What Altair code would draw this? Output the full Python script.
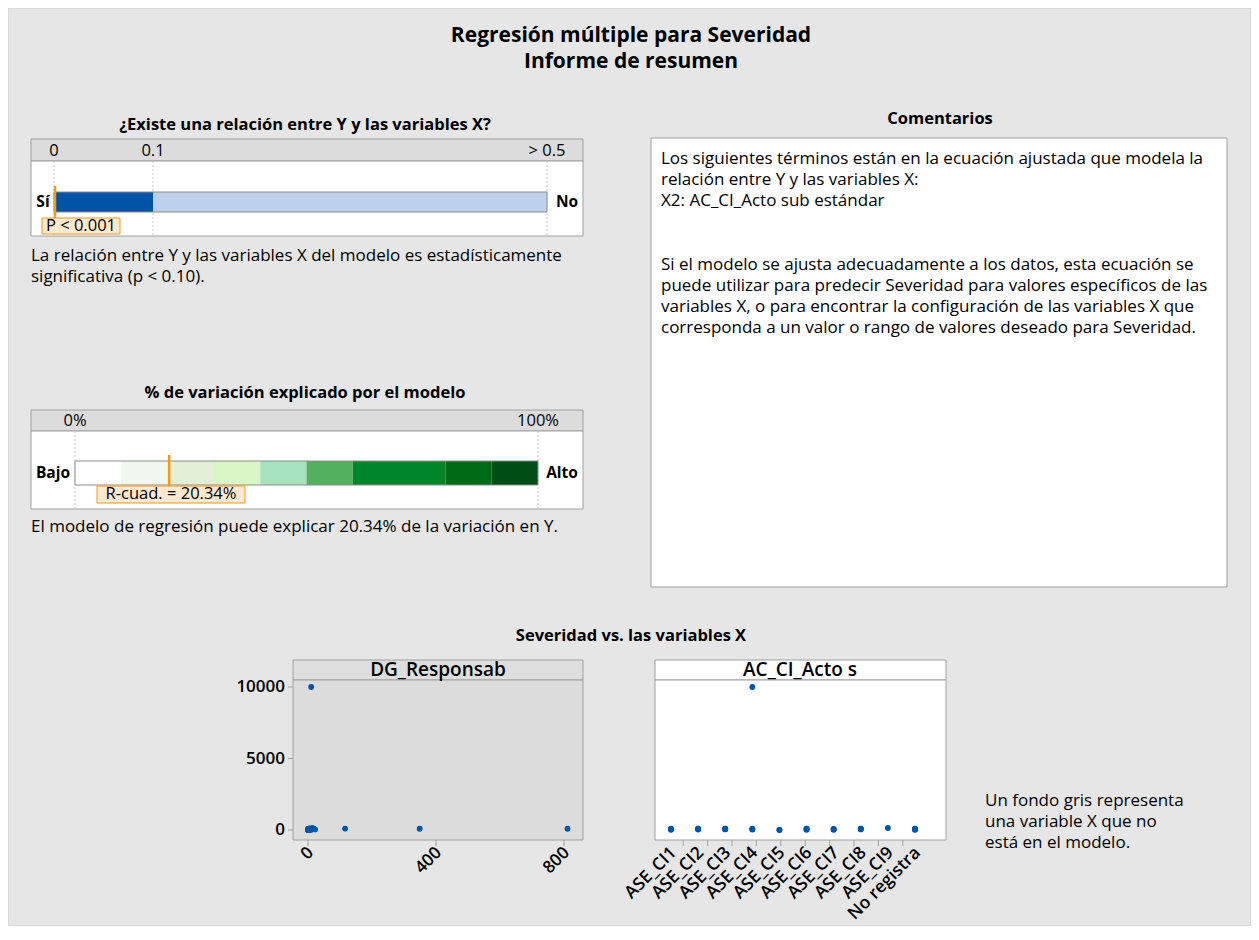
import altair as alt
import pandas as pd

# ---------------- data ----------------
p_ticks = [0, 0.1, 0.5]
p_tick_labels = ["0", "0.1", "> 0.5"]
p_seg_start = [0, 0.1]
p_seg_end = [0.1, 0.5]
p_seg_colors = ["#0054a6", "#bdd1ea"]
p_value = 0.001
p_text = "P < 0.001"

r2_ticks = [0, 100]
r2_tick_labels = ["0%", "100%"]
r2_seg_start = [0, 10, 20, 30, 40, 50, 60, 80, 90]
r2_seg_end = [10, 20, 30, 40, 50, 60, 80, 90, 100]
r2_seg_colors = ["#ffffff", "#f0f7ee", "#e3efd7", "#daf5c4", "#a6e2bd",
                 "#52b05f", "#00862a", "#006b17", "#004d15"]
r2_value = 20.34
r2_text = "R-cuad. = 20.34%"

categories = ["ASE_CI1", "ASE_CI2", "ASE_CI3", "ASE_CI4", "ASE_CI5",
              "ASE_CI6", "ASE_CI7", "ASE_CI8", "ASE_CI9", "No registra"]
obs_cat = ["ASE_CI1", "ASE_CI1", "ASE_CI1", "ASE_CI1",
           "ASE_CI2", "ASE_CI2", "ASE_CI2", "ASE_CI2",
           "ASE_CI3", "ASE_CI3", "ASE_CI3", "ASE_CI3",
           "ASE_CI4", "ASE_CI4", "ASE_CI4", "ASE_CI4",
           "ASE_CI5", "ASE_CI5",
           "ASE_CI6", "ASE_CI6", "ASE_CI6", "ASE_CI6",
           "ASE_CI7", "ASE_CI7", "ASE_CI7",
           "ASE_CI8", "ASE_CI8", "ASE_CI8",
           "ASE_CI9",
           "No registra", "No registra", "No registra", "No registra", "No registra"]
obs_dg = [0, 2, 5, 1,
          3, 8, 0, 4,
          6, 12, 2, 116,
          10, 4, 7, 20,
          0, 1,
          9, 15, 3, 349,
          5, 18, 2,
          11, 6, 811,
          14,
          0, 2, 1, 22, 7]
obs_sev = [20, 80, 100, 50,
           30, 90, 60, 100,
           40, 90, 70, 100,
           10000, 30, 100, 60,
           5, 10,
           20, 100, 60, 90,
           20, 80, 50,
           40, 100, 90,
           140,
           10, 100, 60, 40, 80]
dg_ticks = [0, 400, 800]
sev_ticks = [0, 5000, 10000]

# ---------------- layout ----------------
W, H = 1243, 918
OX, OY = 8, 8
FONT = "Open Sans"
BORDER = "#a0a0a0"
ORANGE = "#f39a1e"
BODY = 17
SEC = 16.5
TICK = 16.5


def PX(field):
    return alt.X(f"{field}:Q", scale=alt.Scale(domain=[OX, OX + W], range=[0, W], nice=False, zero=False), axis=None)


def PY(field):
    return alt.Y(f"{field}:Q", scale=alt.Scale(domain=[OY, OY + H], range=[0, H], nice=False, zero=False), axis=None)


def PX2(field):
    return alt.X2(f"{field}:Q")


def PY2(field):
    return alt.Y2(f"{field}:Q")


def rects(rows, width=1.0):
    df = pd.DataFrame(rows, columns=["x", "x2", "y", "y2", "fill", "stroke"])
    return alt.Chart(df).mark_rect(strokeWidth=width).encode(
        x=PX("x"), x2=PX2("x2"), y=PY("y"), y2=PY2("y2"),
        fill=alt.Fill("fill:N", scale=None), stroke=alt.Stroke("stroke:N", scale=None))


def texts(rows, size, weight="normal", align="left", color="#000000"):
    df = pd.DataFrame(rows, columns=["x", "y", "t"])
    return alt.Chart(df).mark_text(fontSize=size, fontWeight=weight, align=align, baseline="middle",
                                   font=FONT, color=color).encode(
        x=PX("x"), y=PY("y"), text="t:N")


layers = []

# frame
layers.append(rects([[OX, OX + W, OY, OY + H, "#e6e6e6", "#cccccc"]]))

# titles
layers.append(texts([[631, 36, "Regresión múltiple para Severidad"],
                     [631, 62, "Informe de resumen"]], 21, "bold", "center"))
layers.append(texts([[305, 125, "¿Existe una relación entre Y y las variables X?"],
                     [305, 393, "% de variación explicado por el modelo"],
                     [940, 119, "Comentarios"],
                     [631, 636, "Severidad vs. las variables X"]], SEC, "bold", "center"))

# section boxes
layers.append(rects([[31, 583, 139, 161, "#dcdcdc", BORDER],
                     [31, 583, 161, 236, "#ffffff", BORDER],
                     [31, 583, 410, 431, "#dcdcdc", BORDER],
                     [31, 583, 431, 509, "#ffffff", BORDER],
                     [651, 1227, 138, 587, "#ffffff", BORDER]]))

# ---- p-value bar ----
pscale = alt.Scale(domain=p_ticks, range=[54 - OX, 153 - OX, 547 - OX], nice=False, zero=False)
ptick_df = pd.DataFrame({"v": p_ticks, "lab": p_tick_labels})
layers.append(alt.Chart(ptick_df).mark_rule(color="#c4c4c4", strokeDash=[2, 2]).encode(
    x=alt.X("v:Q", scale=pscale, axis=None), y=alt.value(161 - OY), y2=alt.value(236 - OY)))
layers.append(alt.Chart(ptick_df).mark_text(fontSize=TICK, font=FONT, baseline="middle", align="center").encode(
    x=alt.X("v:Q", scale=pscale, axis=None), y=alt.value(151 - OY), text="lab:N"))
pseg_df = pd.DataFrame({"s": p_seg_start, "e": p_seg_end, "c": p_seg_colors})
layers.append(alt.Chart(pseg_df).mark_rect().encode(
    x=alt.X("s:Q", scale=pscale, axis=None), x2="e:Q",
    y=alt.value(192 - OY), y2=alt.value(212 - OY), fill=alt.Fill("c:N", scale=None)))
layers.append(alt.Chart(pd.DataFrame({"s": [p_ticks[0]], "e": [p_ticks[-1]]})).mark_rect(
    fillOpacity=0, stroke="#8c8c8c", strokeWidth=1).encode(
    x=alt.X("s:Q", scale=pscale, axis=None), x2="e:Q",
    y=alt.value(192 - OY), y2=alt.value(212 - OY)))
layers.append(texts([[43, 202, "Sí"]], 15.5, "bold", "center"))
layers.append(texts([[567, 202, "No"]], 15.5, "bold", "center"))
layers.append(rects([[42, 120, 218, 234, "#fde8d0", ORANGE]]))
layers.append(texts([[81, 226, p_text]], TICK, "normal", "center"))
layers.append(alt.Chart(pd.DataFrame({"v": [p_value]})).mark_rule(color=ORANGE, strokeWidth=2.5).encode(
    x=alt.X("v:Q", scale=pscale, axis=None), y=alt.value(186 - OY), y2=alt.value(218 - OY)))
layers.append(texts([[31, 256, "La relación entre Y y las variables X del modelo es estadísticamente"],
                     [31, 277, "significativa (p < 0.10)."]], BODY))

# ---- R-squared bar ----
rscale = alt.Scale(domain=[0, 100], range=[75 - OX, 538 - OX], nice=False, zero=False)
rtick_df = pd.DataFrame({"v": r2_ticks, "lab": r2_tick_labels})
layers.append(alt.Chart(rtick_df).mark_rule(color="#c4c4c4", strokeDash=[2, 2]).encode(
    x=alt.X("v:Q", scale=rscale, axis=None), y=alt.value(431 - OY), y2=alt.value(509 - OY)))
layers.append(alt.Chart(rtick_df).mark_text(fontSize=TICK, font=FONT, baseline="middle", align="center").encode(
    x=alt.X("v:Q", scale=rscale, axis=None), y=alt.value(421 - OY), text="lab:N"))
rseg_df = pd.DataFrame({"s": r2_seg_start, "e": r2_seg_end, "c": r2_seg_colors})
layers.append(alt.Chart(rseg_df).mark_rect().encode(
    x=alt.X("s:Q", scale=rscale, axis=None), x2="e:Q",
    y=alt.value(461 - OY), y2=alt.value(485 - OY), fill=alt.Fill("c:N", scale=None)))
layers.append(alt.Chart(pd.DataFrame({"s": [0], "e": [100]})).mark_rect(
    fillOpacity=0, stroke="#8c8c8c", strokeWidth=1).encode(
    x=alt.X("s:Q", scale=rscale, axis=None), x2="e:Q",
    y=alt.value(461 - OY), y2=alt.value(485 - OY)))
layers.append(texts([[53, 473, "Bajo"]], 15.5, "bold", "center"))
layers.append(texts([[562, 473, "Alto"]], 15.5, "bold", "center"))
layers.append(rects([[97, 245, 486, 503, "#fde8d0", ORANGE]]))
layers.append(texts([[171, 494, r2_text]], TICK, "normal", "center"))
layers.append(alt.Chart(pd.DataFrame({"v": [r2_value]})).mark_rule(color=ORANGE, strokeWidth=2.5).encode(
    x=alt.X("v:Q", scale=rscale, axis=None), y=alt.value(455 - OY), y2=alt.value(486 - OY)))
layers.append(texts([[31, 527, "El modelo de regresión puede explicar 20.34% de la variación en Y."]], BODY))

# ---- comments ----
layers.append(texts([
    [661, 159, "Los siguientes términos están en la ecuación ajustada que modela la"],
    [661, 180, "relación entre Y y las variables X:"],
    [661, 201, "X2: AC_CI_Acto sub estándar"],
    [661, 265, "Si el modelo se ajusta adecuadamente a los datos, esta ecuación se"],
    [661, 286, "puede utilizar para predecir Severidad para valores específicos de las"],
    [661, 307, "variables X, o para encontrar la configuración de las variables X que"],
    [661, 328, "corresponda a un valor o rango de valores deseado para Severidad."],
], BODY))

# ---- scatter panels ----
layers.append(rects([[293, 583, 660, 680, "#dedede", BORDER],
                     [293, 583, 680, 840, "#dcdcdc", BORDER],
                     [655, 946, 660, 680, "#ffffff", BORDER],
                     [655, 946, 680, 840, "#ffffff", BORDER]]))
layers.append(texts([[438, 670, "DG_Responsab"], [800, 670, "AC_CI_Acto s"]], 19, 600, "center"))
layers.append(texts([[985, 801, "Un fondo gris representa"],
                     [985, 822, "una variable X que no"],
                     [985, 843, "está en el modelo."]], BODY))

yscale = alt.Scale(domain=[0, 10000], range=[830 - OY, 687 - OY], nice=False, zero=False)
x1scale = alt.Scale(domain=[0, 800], range=[308 - OX, 564 - OX], nice=False, zero=False)
x2scale = alt.Scale(domain=categories, range=[671 - OX, 915 - OX], padding=0)

obs = pd.DataFrame({"dg": obs_dg, "sev": obs_sev, "cat": obs_cat})
ytick_df = pd.DataFrame({"v": sev_ticks, "lab": [f"{t}" for t in sev_ticks]})
layers.append(alt.Chart(ytick_df).mark_rule(color=BORDER).encode(
    y=alt.Y("v:Q", scale=yscale, axis=None), x=alt.value(288 - OX), x2=alt.value(293 - OX)))
layers.append(alt.Chart(ytick_df).mark_text(fontSize=17, fontWeight=600, font=FONT, align="right",
                                            baseline="middle").encode(
    y=alt.Y("v:Q", scale=yscale, axis=None), x=alt.value(285 - OX), text="lab:N"))

xt1 = pd.DataFrame({"v": dg_ticks, "lab": [f"{t}" for t in dg_ticks]})
layers.append(alt.Chart(xt1).mark_rule(color=BORDER).encode(
    x=alt.X("v:Q", scale=x1scale, axis=None), y=alt.value(840 - OY), y2=alt.value(846 - OY)))
layers.append(alt.Chart(xt1).mark_text(fontSize=17, fontWeight=600, font=FONT, align="right", baseline="middle",
                                       angle=315, dx=4, dy=0).encode(
    x=alt.X("v:Q", scale=x1scale, axis=None), y=alt.value(853 - OY), text="lab:N"))

xt2 = pd.DataFrame({"v": categories})
layers.append(alt.Chart(xt2).mark_rule(color=BORDER).encode(
    x=alt.X("v:N", scale=x2scale, axis=None), y=alt.value(840 - OY), y2=alt.value(846 - OY)))
layers.append(alt.Chart(xt2).mark_text(fontSize=17.5, fontWeight=600, font=FONT, align="right", baseline="middle",
                                       angle=315, dx=4).encode(
    x=alt.X("v:N", scale=x2scale, axis=None), y=alt.value(853 - OY), text="v:N"))

layers.append(alt.Chart(obs).mark_circle(size=34, opacity=1, color="#0054a6").encode(
    x=alt.X("dg:Q", scale=x1scale, axis=None), y=alt.Y("sev:Q", scale=yscale, axis=None)))
layers.append(alt.Chart(obs).mark_circle(size=34, opacity=1, color="#0054a6").encode(
    x=alt.X("cat:N", scale=x2scale, axis=None), y=alt.Y("sev:Q", scale=yscale, axis=None)))

chart = alt.layer(*layers).resolve_scale(x="independent", y="independent").properties(
    width=W, height=H, padding=0, autosize=alt.AutoSizeParams(type="none"),
    background="#ffffff"
).configure_view(stroke=None)

chart.save("out.html", embed_options={"renderer": "svg", "actions": False})
